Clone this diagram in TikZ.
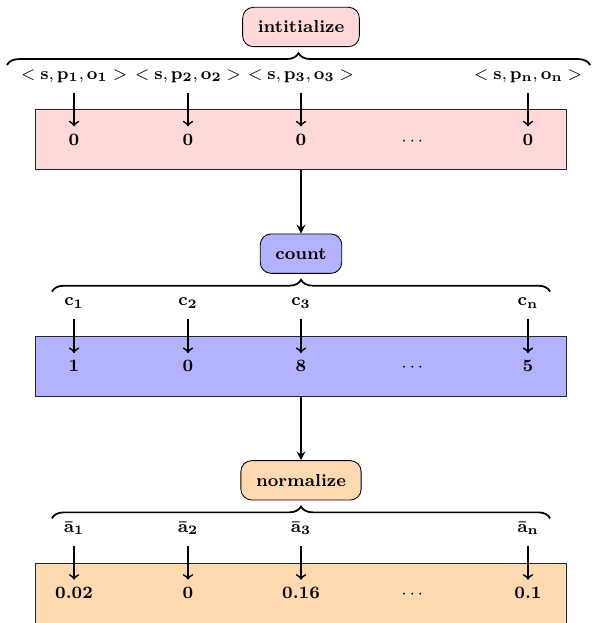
\documentclass[tikz,border=0pt]{standalone}
\usepackage{tikz}
\usetikzlibrary{arrows, positioning, calc, decorations.pathreplacing}
\tikzstyle{stage} = [rectangle, rounded corners=5pt, draw=black, inner xsep=7pt, minimum height=0.64cm]
\tikzstyle{store} = [rectangle, draw=black!85, minimum width=8.62cm, minimum height=0.976cm]
\tikzstyle{entry} = [text depth=0pt, inner sep=2pt, inner ysep=6pt]
\tikzstyle{value} = [text height=5.2pt, text depth=0pt, inner sep=2pt, inner ysep=3.3pt]
\tikzstyle{arrow} = [thick,->,>=stealth]
\tikzstyle{feed} = [thick,->]
\tikzstyle{group} = [thick, decorate, decoration={brace, amplitude=5.5pt}]
\newcommand{\triple}[1]{{\unboldmath$<\mathbf{s},\mathbf{p_#1},\mathbf{o_#1}>$}}
\newcommand{\skipped}{{\unboldmath$\cdots$}}

\begin{document}
\begin{tikzpicture}[font=\footnotesize\bfseries\boldmath]
    \useasboundingbox (-4.894,0.439) rectangle (4.764,-9.69);

    % initialize
    \node (init) [stage, fill=red!15] at (0,0) {intitialize};
    \node (box1) [store, fill=red!15, below=1.01cm of init] {};
    \coordinate (bl1) at (-4.78,-0.618);
    \coordinate (br1) at (4.70,-0.618);
    \draw [group] (bl1) -- (br1);
    \foreach \i/\x/\val in {1/-3.69/0, 2/-1.837/0, 3/0/0, n/3.69/0}{
        \node (in\i) [entry, anchor=base] at ($(box1.north)+(\x,0.488)$) {\triple{\i}};
        \node (zero\i) [value, anchor=base] at ($(box1.north)+(\x,-0.585)$) {\val};
        \draw [feed] (in\i) -- (zero\i);
    }
    \node (dots1) [value, anchor=base] at ($(box1.north)+(1.81,-0.585)$) {\skipped};

    % count
    \node (count) [stage, fill=blue!30] at (0,-3.685) {count};
    \node (box2) [store, fill=blue!30, below=1.01cm of count] {};
    \coordinate (bl2) at (-4.05,-4.303);
    \coordinate (br2) at (4.05,-4.303);
    \draw [group] (bl2) -- (br2);
    \foreach \i/\x/\val in {1/-3.69/1, 2/-1.837/0, 3/0/8, n/3.69/5}{
        \node (c\i) [entry, anchor=base] at ($(box2.north)+(\x,0.488)$) {$\mathbf{c_\i}$};
        \node (num\i) [value, anchor=base] at ($(box2.north)+(\x,-0.585)$) {\val};
        \draw [feed] (c\i) -- (num\i);
    }
    \node (dots2) [value, anchor=base] at ($(box2.north)+(1.81,-0.585)$) {\skipped};

    % normalize
    \node (norm) [stage, fill=orange!30] at (0,-7.37) {normalize};
    \node (box3) [store, fill=orange!30, below=1.01cm of norm] {};
    \coordinate (bl3) at (-4.05,-7.988);
    \coordinate (br3) at (4.05,-7.988);
    \draw [group] (bl3) -- (br3);
    \foreach \i/\x/\val in {1/-3.69/0.02, 2/-1.837/0, 3/0/0.16, n/3.69/0.1}{
        \node (a\i) [entry, anchor=base] at ($(box3.north)+(\x,0.488)$) {$\bar{\mathbf{a}}_\mathbf{\i}$};
        \node (frac\i) [value, anchor=base] at ($(box3.north)+(\x,-0.585)$) {\val};
        \draw [feed] (a\i) -- (frac\i);
    }
    \node (dots3) [value, anchor=base] at ($(box3.north)+(1.81,-0.585)$) {\skipped};

    \draw [arrow] (box1) -- (count);
    \draw [arrow] (box2) -- (norm);
\end{tikzpicture}
\end{document}
